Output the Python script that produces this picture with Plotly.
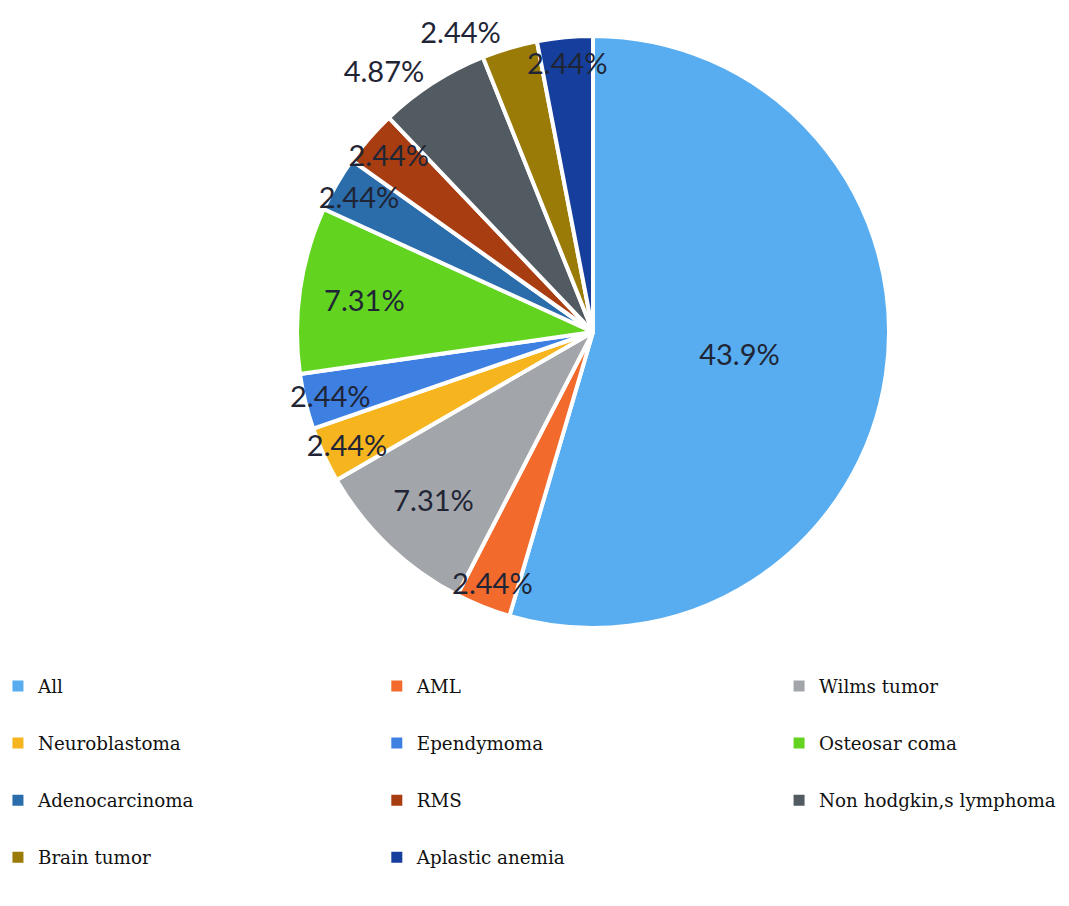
import plotly.graph_objects as go

categories = ["All", "AML", "Wilms tumor", "Neuroblastoma", "Ependymoma",
              "Osteosar coma", "Adenocarcinoma", "RMS", "Non hodgkin,s lymphoma",
              "Brain tumor", "Aplastic anemia"]
percent_values = [43.9, 2.44, 7.31, 2.44, 2.44, 7.31, 2.44, 2.44, 4.87, 2.44, 2.44]
colors = ["#58adf0", "#f26b2c", "#a2a6aa", "#f6b51f", "#3e80e2", "#62d41f",
          "#2b6cab", "#a83d12", "#525b62", "#9b7b08", "#163e9c"]
label_positions = ["inside", "inside", "inside", "inside", "inside", "inside",
                   "inside", "inside", "outside", "outside", "inside"]
legend_columns = [["All", "Neuroblastoma", "Adenocarcinoma", "Brain tumor"],
                  ["AML", "Ependymoma", "RMS", "Aplastic anemia"],
                  ["Wilms tumor", "Osteosar coma", "Non hodgkin,s lymphoma"]]

W, H = 1069, 906
cx, cy, r = 585, 324, 296
domain = dict(x=[(cx - r) / W, (cx + r) / W], y=[(H - cy - r) / H, (H - cy + r) / H])
label_font = dict(family="Lato", size=29, color="#1f2535")

fig = go.Figure()
# slices
fig.add_trace(go.Pie(
    labels=categories, values=percent_values, sort=False, direction="clockwise",
    rotation=0, textinfo="none",
    marker=dict(colors=colors, line=dict(color="white", width=4)),
    showlegend=False, domain=domain,
))
# percentage labels drawn on top of all slices
fig.add_trace(go.Pie(
    labels=categories, values=percent_values, sort=False, direction="clockwise",
    rotation=0, texttemplate="%{value}%", textposition=label_positions,
    insidetextorientation="horizontal",
    textfont=label_font, insidetextfont=label_font, outsidetextfont=label_font,
    marker=dict(colors=["rgba(0,0,0,0)"] * len(categories), line=dict(width=0)),
    showlegend=False, hoverinfo="skip", domain=domain,
))

color_of = dict(zip(categories, colors))
legend_names = ["legend", "legend2", "legend3"]
col_x = [-0.0094, 0.345, 0.7213]
for ci, col in enumerate(legend_columns):
    for name in col:
        fig.add_trace(go.Scatter(
            x=[None], y=[None], mode="markers", name=name,
            marker=dict(symbol="square", size=11, color=color_of[name]),
            legend=legend_names[ci], legendgroup=name, showlegend=True,
            hoverinfo="skip",
        ))

legend_common = dict(orientation="v", yanchor="top", y=0.272, xanchor="left",
                     font=dict(family="DejaVu Serif", size=18.3, color="#111111"),
                     tracegroupgap=30.3, bgcolor="rgba(0,0,0,0)", itemclick=False)
layout_legends = {}
for ci, ln in enumerate(legend_names):
    layout_legends[ln] = dict(legend_common, x=col_x[ci])

fig.update_layout(
    width=W, height=H, margin=dict(l=0, r=0, t=0, b=0, autoexpand=False),
    paper_bgcolor="white", plot_bgcolor="white",
    xaxis=dict(visible=False), yaxis=dict(visible=False),
    uniformtext=dict(minsize=29, mode="show"),
    **layout_legends,
)

fig.write_html("out.html")
